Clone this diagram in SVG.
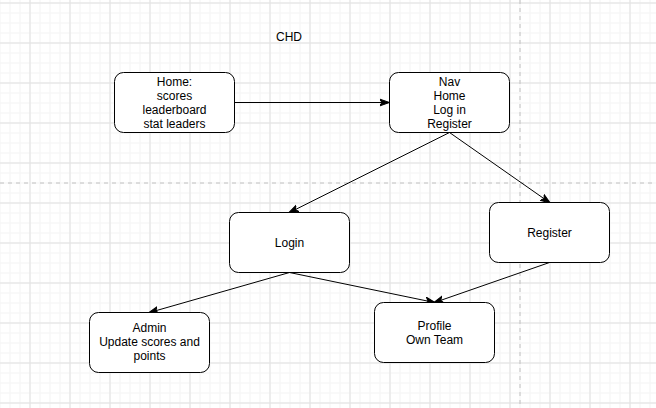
<svg xmlns="http://www.w3.org/2000/svg" width="656" height="408" viewBox="0 0 656 408">
<style>
.node rect{fill:#fff;stroke:#000;stroke-width:1}
.node text,.lbl{font-family:"Liberation Sans",Arial,sans-serif;font-size:12px;fill:#000;text-anchor:middle}
.edge{stroke:#000;stroke-width:1;fill:none;marker-end:url(#arr)}
</style>
<defs>
<pattern id="minor" x="9.5" y="2.5" width="10" height="10" patternUnits="userSpaceOnUse">
<path d="M0 0H10M0 0V10" stroke="#f3f3f3" stroke-width="1" fill="none" transform="translate(0.5,0.5)"/>
</pattern>
<pattern id="major" x="29.5" y="2.5" width="40" height="40" patternUnits="userSpaceOnUse">
<path d="M0 0H40M0 0V40" stroke="#e0e0e0" stroke-width="1" fill="none" transform="translate(0.5,0.5)"/>
</pattern>
<marker id="arr" viewBox="0 0 10 10" refX="9" refY="5" markerWidth="10" markerHeight="10" markerUnits="userSpaceOnUse" orient="auto">
<path d="M0 1.5L10 5L0 8.5L2.5 5Z" fill="#000" stroke="#000" stroke-width="1"/>
</marker>
</defs>
<rect width="656" height="408" fill="#fff"/>
<rect width="656" height="408" fill="url(#minor)"/>
<rect width="656" height="408" fill="url(#major)"/>
<g id="pagebreaks" stroke="#c0c0c0" stroke-dasharray="4 4" stroke-width="1">
<line x1="520" y1="0" x2="520" y2="408"/>
<line x1="0" y1="183" x2="656" y2="183"/>
</g>
<text class="lbl" x="289" y="41">CHD</text>
<g id="connectors">
<line class="edge" x1="234.5" y1="102.5" x2="388.5" y2="102.5"/>
<line class="edge" x1="449.5" y1="132.5" x2="289.5" y2="212.5"/>
<line class="edge" x1="449.5" y1="132.5" x2="549.5" y2="202.5"/>
<line class="edge" x1="289.5" y1="272.5" x2="149.5" y2="312.5"/>
<line class="edge" x1="289.5" y1="272.5" x2="434.5" y2="302.5"/>
<line class="edge" x1="549.5" y1="262.5" x2="434.5" y2="302.5"/>
</g>
<g id="home" class="node">
<rect x="114.5" y="72.5" width="120" height="60" rx="9"/>
<text x="174.5" y="85.5">Home:</text>
<text x="174.5" y="99.5">scores</text>
<text x="174.5" y="113.5">leaderboard</text>
<text x="174.5" y="127.5">stat leaders</text>
</g>
<g id="nav" class="node">
<rect x="389.5" y="72.5" width="120" height="60" rx="9"/>
<text x="449.5" y="85.5">Nav</text>
<text x="449.5" y="99.5">Home</text>
<text x="449.5" y="113.5">Log in</text>
<text x="449.5" y="127.5">Register</text>
</g>
<g id="login" class="node">
<rect x="229.5" y="212.5" width="120" height="60" rx="9"/>
<text x="289.5" y="246.5">Login</text>
</g>
<g id="register" class="node">
<rect x="489.5" y="202.5" width="120" height="60" rx="9"/>
<text x="549.5" y="236.5">Register</text>
</g>
<g id="admin" class="node">
<rect x="89.5" y="312.5" width="120" height="60" rx="9"/>
<text x="149.5" y="332">Admin</text>
<text x="149.5" y="346">Update scores and</text>
<text x="149.5" y="360">points</text>
</g>
<g id="profile" class="node">
<rect x="374.5" y="302.5" width="120" height="60" rx="9"/>
<text x="434.5" y="329.5">Profile</text>
<text x="434.5" y="343.5">Own Team</text>
</g>
</svg>
